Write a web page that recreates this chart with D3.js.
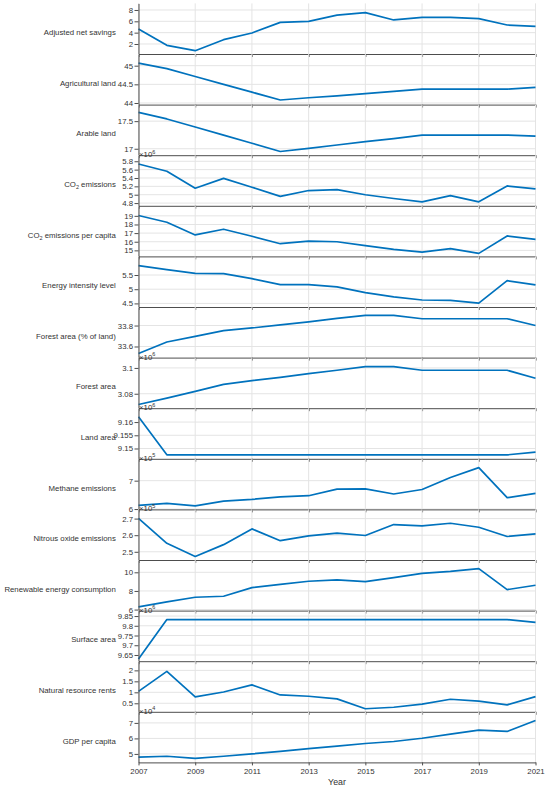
<!DOCTYPE html>
<html>
<head>
<meta charset="utf-8">
<script src="https://cdn.jsdelivr.net/npm/d3@7"></script>
<style>
  body { margin: 0; background: #fff; }
  svg text { font-family: "Liberation Sans", Arial, Helvetica, sans-serif; }
</style>
</head>
<body>
<div id="chart"></div>
<script>
// Years on the shared x axis
const years = [2007, 2008, 2009, 2010, 2011, 2012, 2013, 2014, 2015, 2016, 2017, 2018, 2019, 2020, 2021]
const yearTicks = [2007, 2009, 2011, 2013, 2015, 2017, 2019, 2021]

// One array per variable
const adjustedNetSavings = [4.65, 1.76, 0.82, 2.76, 3.94, 5.82, 6.0, 7.1, 7.53, 6.24, 6.7, 6.7, 6.47, 5.35, 5.12]
const agriculturalLand = [45.07, 44.92, 44.71, 44.5, 44.29, 44.08, 44.14, 44.19, 44.25, 44.31, 44.37, 44.37, 44.37, 44.37, 44.42]
const arableLand = [17.66, 17.54, 17.395, 17.247, 17.1, 16.95, 17.006, 17.068, 17.13, 17.185, 17.247, 17.247, 17.247, 17.247, 17.228]
const co2Emissions = [5.735e6, 5.56e6, 5.155e6, 5.39e6, 5.18e6, 4.96e6, 5.1e6, 5.12e6, 5.0e6, 4.91e6, 4.83e6, 4.98e6, 4.83e6, 5.21e6, 5.14e6]
const co2PerCapita = [19.04, 18.26, 16.79, 17.45, 16.63, 15.77, 16.08, 16.0, 15.54, 15.12, 14.8, 15.2, 14.65, 16.67, 16.28]
const energyIntensity = [5.83, 5.69, 5.56, 5.55, 5.37, 5.16, 5.16, 5.08, 4.88, 4.73, 4.62, 4.61, 4.51, 5.3, 5.15]
const forestAreaPct = [33.533, 33.643, 33.697, 33.752, 33.777, 33.806, 33.835, 33.868, 33.897, 33.897, 33.865, 33.865, 33.865, 33.865, 33.8]
const forestArea = [3.0717e6, 3.0766e6, 3.0818e6, 3.0873e6, 3.0901e6, 3.0927e6, 3.0956e6, 3.0982e6, 3.101e6, 3.101e6, 3.0982e6, 3.0982e6, 3.0982e6, 3.0982e6, 3.092e6]
const landArea = [9.162e6, 9.1476e6, 9.1476e6, 9.1476e6, 9.1476e6, 9.1476e6, 9.1476e6, 9.1476e6, 9.1476e6, 9.1476e6, 9.1476e6, 9.1476e6, 9.1476e6, 9.1476e6, 9.1486e6]
const methaneEmissions = [6.13e5, 6.2e5, 6.11e5, 6.28e5, 6.34e5, 6.43e5, 6.47e5, 6.7e5, 6.71e5, 6.53e5, 6.69e5, 7.11e5, 7.46e5, 6.4e5, 6.55e5]
const nitrousOxide = [2.702e5, 2.551e5, 2.472e5, 2.543e5, 2.638e5, 2.567e5, 2.596e5, 2.612e5, 2.598e5, 2.664e5, 2.656e5, 2.672e5, 2.648e5, 2.592e5, 2.608e5]
const renewableEnergy = [6.29, 6.82, 7.32, 7.43, 8.36, 8.71, 9.04, 9.18, 9.0, 9.43, 9.89, 10.1, 10.39, 8.14, 8.61]
const surfaceArea = [9.629e6, 9.832e6, 9.832e6, 9.832e6, 9.832e6, 9.832e6, 9.832e6, 9.832e6, 9.832e6, 9.832e6, 9.832e6, 9.832e6, 9.832e6, 9.832e6, 9.8175e6]
const naturalResourceRents = [1.045, 1.955, 0.79, 1.015, 1.34, 0.88, 0.82, 0.7, 0.25, 0.32, 0.46, 0.685, 0.6, 0.43, 0.805]
const gdpPerCapita = [4.79e4, 4.85e4, 4.71e4, 4.85e4, 5.0e4, 5.17e4, 5.34e4, 5.5e4, 5.67e4, 5.8e4, 6.01e4, 6.28e4, 6.54e4, 6.45e4, 7.15e4]

const panelLabels = ['Adjusted net savings', 'Agricultural land', 'Arable land', 'CO2 emissions',
  'CO2 emissions per capita', 'Energy intensity level', 'Forest area (% of land)', 'Forest area',
  'Land area', 'Methane emissions', 'Nitrous oxide emissions', 'Renewable energy consumption',
  'Surface area', 'Natural resource rents', 'GDP per capita']
const panelSeries = [adjustedNetSavings, agriculturalLand, arableLand, co2Emissions, co2PerCapita,
  energyIntensity, forestAreaPct, forestArea, landArea, methaneEmissions, nitrousOxide,
  renewableEnergy, surfaceArea, naturalResourceRents, gdpPerCapita]
// power of ten shown as "x10^n" (0 = none)
const panelExponents = [0, 0, 0, 6, 0, 0, 0, 6, 6, 5, 5, 0, 6, 0, 4]
// y limits in displayed units
const panelLimits = [[0.235, 9.16], [43.957, 45.313], [16.883, 17.8], [4.735, 5.945], [14.3, 20.165],
  [4.374, 6.155], [33.494, 33.977], [3.0688, 3.108], [9.1461, 9.16525], [5.988, 7.77],
  [2.4505, 2.7554], [5.89, 11.32], [9.618, 9.878], [0.112, 2.418], [4.453, 7.716]]
const panelTicks = [[2, 4, 6, 8], [44, 44.5, 45], [17, 17.5], [4.8, 5, 5.2, 5.4, 5.6, 5.8],
  [15, 16, 17, 18, 19], [4.5, 5, 5.5], [33.6, 33.8], [3.08, 3.1], [9.15, 9.155, 9.16], [6, 7],
  [2.5, 2.6, 2.7], [6, 8, 10], [9.65, 9.7, 9.75, 9.8, 9.85], [0.5, 1, 1.5, 2], [5, 6, 7]]

// canvas
const width = 550,
  height = 791,
  marginLeft = 138.5,
  plotRight = 535.5,
  marginTop = 3.4,
  panelH = 50.6

const lineColor = '#0072bd',
  axisColor = '#4d4d4d',
  textColor = '#333',
  gridColor = '#e4e4e4'

let svg = d3.select('#chart')
  .append('svg')
  .attr('width', width)
  .attr('height', height)

const x = d3.scaleLinear()
  .domain([years[0], years[years.length - 1]])
  .range([marginLeft, plotRight])

const fmt = d3.format('~g')

panelLabels.forEach((label, i) => {
  const y0 = marginTop + i * panelH
  const y1 = y0 + panelH
  const scale = Math.pow(10, panelExponents[i])
  const y = d3.scaleLinear().domain(panelLimits[i]).range([y1, y0])
  const g = svg.append('g')

  // grid
  g.selectAll('.vgrid')
    .data(yearTicks)
    .enter()
    .append('line')
    .attr('x1', d => x(d)).attr('x2', d => x(d))
    .attr('y1', y0).attr('y2', y1)
    .attr('stroke', gridColor)
    .attr('stroke-width', 1)

  g.selectAll('.hgrid')
    .data(panelTicks[i])
    .enter()
    .append('line')
    .attr('x1', marginLeft).attr('x2', plotRight)
    .attr('y1', d => y(d)).attr('y2', d => y(d))
    .attr('stroke', gridColor)
    .attr('stroke-width', 1)

  // series
  const line = d3.line()
    .x((d, k) => x(years[k]))
    .y(d => y(d / scale))

  g.append('path')
    .datum(panelSeries[i])
    .attr('d', line)
    .attr('fill', 'none')
    .attr('stroke', lineColor)
    .attr('stroke-width', 1.7)
    .attr('stroke-linejoin', 'round')

  // y axis
  const yAxis = g.append('g')
    .attr('transform', `translate(${marginLeft}, 0)`)
    .call(d3.axisLeft(y).tickValues(panelTicks[i]).tickFormat(fmt).tickSizeInner(4).tickSizeOuter(0).tickPadding(1.5))
  yAxis.select('.domain').attr('stroke', axisColor)
  yAxis.selectAll('.tick line').attr('stroke', axisColor)
  yAxis.selectAll('text')
    .attr('fill', textColor)
    .style('font-size', '7.8px')
    .style('font-family', '"Liberation Sans", Arial, sans-serif')

  // x axis at the bottom of each panel
  const xAxis = g.append('g')
    .attr('transform', `translate(0, ${y1})`)
    .call(d3.axisBottom(x).tickValues(yearTicks).tickFormat(d3.format('d')).tickSizeInner(3).tickSizeOuter(0).tickPadding(3))
  xAxis.select('.domain').attr('stroke', axisColor)
  xAxis.selectAll('.tick line').attr('stroke', axisColor)
  xAxis.selectAll('text')
    .attr('fill', textColor)
    .style('font-size', '7.8px')
    .style('font-family', '"Liberation Sans", Arial, sans-serif')
  if (i < panelLabels.length - 1) xAxis.selectAll('text').remove()

  // variable name
  const t = g.append('text')
    .attr('x', 115.8)
    .attr('y', (y0 + y1) / 2 + 3.8)
    .attr('dy', '0.35em')
    .attr('text-anchor', 'end')
    .attr('fill', textColor)
    .style('font-size', '7.8px')
  if (label.startsWith('CO2')) {
    t.append('tspan').text('CO')
    t.append('tspan').attr('dy', 2.2).style('font-size', '5.5px').text('2')
    t.append('tspan').attr('dy', -2.2).text(label.slice(3))
  } else {
    t.text(label)
  }

  // exponent
  if (panelExponents[i]) {
    const e = g.append('text')
      .attr('x', marginLeft + 0.5)
      .attr('y', y0 + 2)
      .attr('fill', textColor)
      .style('font-size', '7.8px')
    e.append('tspan').text('\u00d710')
    e.append('tspan').attr('dy', -3.5).style('font-size', '5.5px').text(panelExponents[i])
  }
})

// x label
svg.append('text')
  .attr('x', (marginLeft + plotRight) / 2)
  .attr('y', 785)
  .attr('text-anchor', 'middle')
  .attr('fill', textColor)
  .style('font-size', '8.8px')
  .text('Year')
</script>
</body>
</html>
